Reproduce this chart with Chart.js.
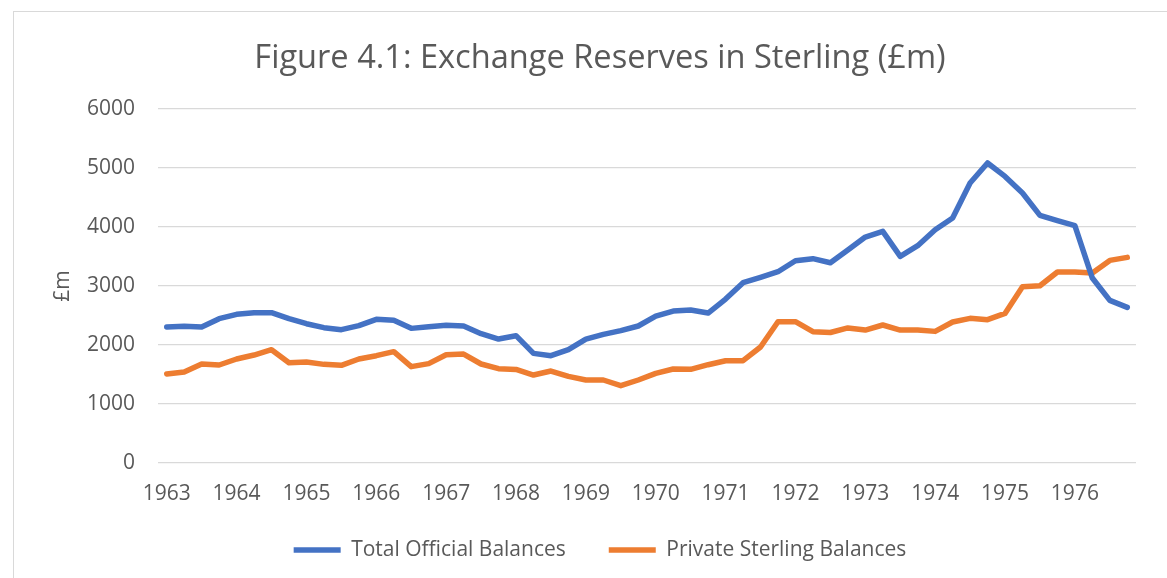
<!DOCTYPE html>
<html>
<head>
<meta charset="utf-8">
<script src="https://cdn.jsdelivr.net/npm/chart.js@4.4.1/dist/chart.umd.min.js"></script>
<style>
  html, body { margin: 0; padding: 0; background: #ffffff; overflow: hidden; }
  #wrap { width: 1167px; height: 578px; position: relative; }
  canvas { display: block; }
</style>
</head>
<body>
<div id="wrap"><canvas id="c" width="1167" height="578"></canvas></div>
<script>
// ---- Data (quarterly, 1963 Q1 – 1976 Q4, £m) ----
const years = ['1963','1964','1965','1966','1967','1968','1969','1970','1971','1972','1973','1974','1975','1976'];
const quarters = ['Q1','Q2','Q3','Q4'];
const categories = years.flatMap(y => quarters.map(q => y + ' ' + q));

const titleText = 'Figure 4.1: Exchange Reserves in Sterling (£m)';
const yAxisTitle = '£m';
const seriesNames = ['Total Official Balances', 'Private Sterling Balances'];

const totalOfficial = [
  2305, 2316, 2305, 2446,  2520, 2548, 2548, 2446,  2361, 2294, 2260, 2328,
  2435, 2418, 2282, 2310,  2333, 2322, 2192, 2101,  2158, 1858, 1819, 1921,
  2101, 2180, 2243, 2322,  2491, 2576, 2593, 2542,  2779, 3056, 3146, 3242,
  3429, 3463, 3395, 3610,  3830, 3926, 3502, 3683,  3954, 4152, 4746, 5085,
  4858, 4576, 4197, 4107,  4022, 3135, 2756, 2638
];
const privateSterling = [
  1508, 1542, 1678, 1661,  1763, 1830, 1920, 1700,  1712, 1672, 1655, 1763,
  1819, 1887, 1633, 1684,  1836, 1847, 1678, 1599,  1585, 1491, 1559, 1468,
  1407, 1407, 1310, 1407,  1519, 1593, 1588, 1666,  1734, 1734, 1966, 2395,
  2395, 2225, 2212, 2290,  2254, 2339, 2254, 2254,  2231, 2390, 2452, 2429,
  2536, 2988, 3005, 3237,  3237, 3220, 3434, 3485
];
const yTicks = [0, 1000, 2000, 3000, 4000, 5000, 6000];

// ---- Styling ----
const TEXT = '#595959';
const GRID = '#d9d9d9';
const FONT = "'Open Sans'";

const frame = {
  id: 'frame',
  beforeDraw(chart) {
    const ctx = chart.ctx;
    ctx.save();
    ctx.fillStyle = '#ffffff';
    ctx.fillRect(0, 0, chart.width, chart.height);
    ctx.strokeStyle = GRID;
    ctx.lineWidth = 1;
    ctx.strokeRect(13.5, 11.5, 3000, 3000);
    ctx.restore();
  }
};

// move the legend up a little so it sits closer to the axis labels
const legendShift = {
  id: 'legendShift',
  afterLayout(chart) {
    const lg = chart.legend;
    if (lg) { lg.top -= 9.7; lg.bottom -= 9.7; }
  }
};

new Chart(document.getElementById('c'), {
  type: 'line',
  data: {
    labels: categories,
    datasets: [
      {
        label: seriesNames[0],
        data: totalOfficial,
        borderColor: '#4472C4',
        backgroundColor: '#4472C4',
        borderWidth: 5.5,
        borderCapStyle: 'round',
        borderJoinStyle: 'round',
        pointRadius: 0,
        tension: 0
      },
      {
        label: seriesNames[1],
        data: privateSterling,
        borderColor: '#ED7D31',
        backgroundColor: '#ED7D31',
        borderWidth: 5.5,
        borderCapStyle: 'round',
        borderJoinStyle: 'round',
        pointRadius: 0,
        tension: 0
      }
    ]
  },
  options: {
    responsive: false,
    animation: false,
    devicePixelRatio: 1,
    layout: { padding: { left: 64, right: 31, top: 11, bottom: 1.8 } },
    plugins: {
      title: {
        display: true,
        text: titleText,
        color: TEXT,
        font: { family: FONT, size: 32.6, weight: 'normal', lineHeight: 1.2 },
        padding: { top: 28.5, bottom: 30.4 }
      },
      legend: {
        display: true,
        position: 'bottom',
        maxHeight: 70,
        labels: {
          usePointStyle: true,
          pointStyle: 'line',
          pointStyleWidth: 47,
          color: TEXT,
          font: { family: FONT, size: 21 },
          padding: 43
        }
      },
      tooltip: { enabled: false }
    },
    scales: {
      x: {
        type: 'category',
        offset: true,
        grid: { display: false, drawTicks: false },
        border: { display: false },
        ticks: {
          autoSkip: false,
          maxRotation: 0,
          minRotation: 0,
          padding: 18,
          color: TEXT,
          font: { family: FONT, size: 21 },
          callback: function (value, index) {
            return index % 4 === 0 ? years[index / 4] : '';
          }
        },
        afterFit(scale) { scale.height = 43.2; }
      },
      y: {
        min: yTicks[0],
        max: yTicks[yTicks.length - 1],
        grid: { color: GRID, lineWidth: 1.3, drawTicks: false },
        border: { display: false },
        ticks: {
          stepSize: 1000,
          padding: 23,
          color: TEXT,
          font: { family: FONT, size: 21 },
          callback: (v) => String(v)
        },
        title: {
          display: true,
          text: yAxisTitle,
          color: TEXT,
          font: { family: FONT, size: 21 },
          padding: { top: -13.6, bottom: 0 }
        },
        afterFit(scale) { scale.width = 94; }
      }
    }
  },
  plugins: [frame, legendShift]
});
</script>
</body>
</html>
